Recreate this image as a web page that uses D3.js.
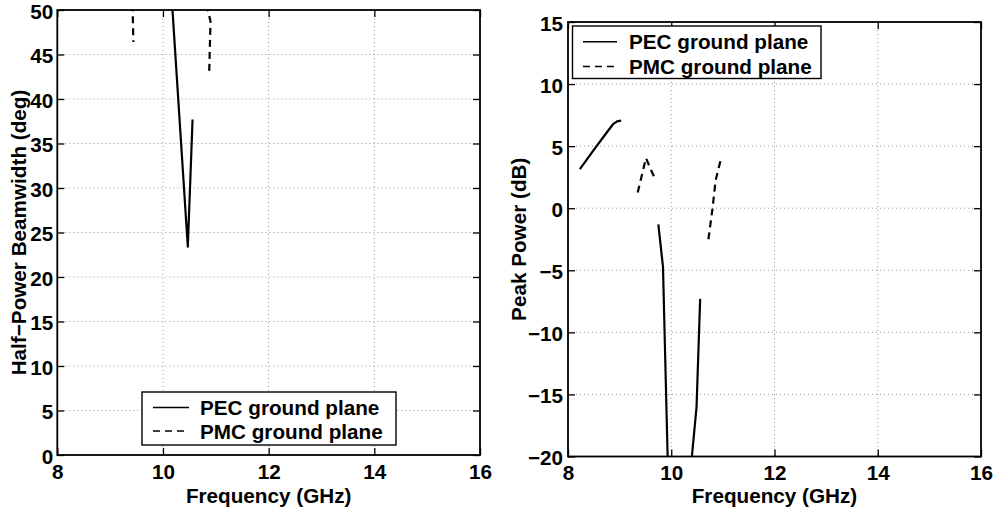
<!DOCTYPE html>
<html>
<head>
<meta charset="utf-8">
<script src="https://cdn.jsdelivr.net/npm/d3@7"></script>
<style>
  html, body { margin: 0; padding: 0; background: #fff; }
  svg { display: block; font-family: "Liberation Sans", Arial, Helvetica, sans-serif; font-weight: bold; }
  .grid line { stroke: #9a9a9a; stroke-width: 1; stroke-dasharray: 1,3; }
  .axis path { display: none; }
  .axis line { stroke: #000; stroke-width: 1.3; }
  .axis text { font-size: 20.7px; font-weight: bold; fill: #000; font-family: "Liberation Sans", Arial, sans-serif; }
  .frame { fill: none; stroke: #000; stroke-width: 1.8; }
  .series { fill: none; stroke: #000; stroke-width: 2.2; stroke-linejoin: round; }
  .dashed { stroke-dasharray: 7,5; }
  .label { font-size: 20.7px; font-weight: bold; fill: #000; }
</style>
</head>
<body>
<svg id="chart" width="995" height="511"></svg>
<script>
// Shared frequency axis
const freqDomain = [8, 16];
const freqTicks = [8, 10, 12, 14, 16];

// Beamwidth panel
const bwDomain = [0, 50];
const bwTicks = [0, 5, 10, 15, 20, 25, 30, 35, 40, 45, 50];
const pecBwFreq = [10.125, 10.47, 10.56];
const pecBwDeg  = [55.0, 23.4, 37.7];
const pmcBwFreq = [9.42, 9.43, 9.44, null, 10.84, 10.85, 10.9, 10.89, 10.875];
const pmcBwDeg  = [52.0, 49.0, 46.4, null, 52.0, 50.0, 48.7, 46.5, 43.0];

// Peak power panel
const powDomain = [-20, 15];
const powTicks = [-20, -15, -10, -5, 0, 5, 10, 15];
const pecPowFreq = [8.23, 8.5, 8.75, 8.88, 8.95, 9.03, null, 9.75, 9.84, 9.93, 9.95, null, 10.38, 10.40, 10.49, 10.56];
const pecPowDb   = [3.15, 4.7, 6.1, 6.8, 7.0, 7.05, null, -1.3, -4.73, -20.0, -23.0, null, -23.0, -20.0, -16.0, -7.3];
const pmcPowFreq = [9.35, 9.51, 9.68, null, 10.72, 10.80, 10.86, 10.96];
const pmcPowDb   = [1.27, 4.03, 2.4, null, -2.5, 0.0, 2.26, 3.93];

const legendLabels = ["PEC ground plane", "PMC ground plane"];

const svg = d3.select("#chart");

function zip(xs, ys) {
  return xs.map((f, i) => (f === null || ys[i] === null) ? null : [f, ys[i]]);
}

function drawPanel(cfg) {
  const x = d3.scaleLinear().domain(freqDomain).range([cfg.left, cfg.right]);
  const y = d3.scaleLinear().domain(cfg.yDomain).range([cfg.bottom, cfg.top]);
  const g = svg.append("g");
  const w = cfg.right - cfg.left, h = cfg.bottom - cfg.top;

  // dotted grid at interior ticks
  const grid = g.append("g").attr("class", "grid");
  grid.selectAll("line.v").data(freqTicks.slice(1, -1)).join("line")
    .attr("class", "v")
    .attr("x1", d => x(d)).attr("x2", d => x(d))
    .attr("y1", cfg.top).attr("y2", cfg.bottom);
  grid.selectAll("line.h").data(cfg.yTicks.slice(1, -1)).join("line")
    .attr("class", "h")
    .attr("x1", cfg.left).attr("x2", cfg.right)
    .attr("y1", d => y(d)).attr("y2", d => y(d));

  // data curves, clipped to the plot box
  const clipId = "clip-" + cfg.id;
  svg.append("clipPath").attr("id", clipId)
    .append("rect").attr("x", cfg.left).attr("y", cfg.top).attr("width", w).attr("height", h);
  const line = d3.line().defined(d => d !== null).x(d => x(d[0])).y(d => y(d[1]));
  const curves = g.append("g").attr("clip-path", `url(#${clipId})`);
  curves.append("path").attr("class", "series").attr("d", line(zip(cfg.pecX, cfg.pecY)));
  curves.append("path").attr("class", "series dashed").attr("d", line(zip(cfg.pmcX, cfg.pmcY)));

  // inward ticks on all four sides
  const tk = 7;
  g.append("g").attr("class", "axis").attr("transform", `translate(0,${cfg.bottom})`)
    .call(d3.axisBottom(x).tickValues(freqTicks).tickSize(-tk).tickSizeOuter(0).tickPadding(9).tickFormat(d3.format("d")));
  g.append("g").attr("class", "axis").attr("transform", `translate(0,${cfg.top})`)
    .call(d3.axisTop(x).tickValues(freqTicks).tickSize(-tk).tickSizeOuter(0).tickFormat(""));
  const yFmt = d => (d < 0 ? "\u2212" + Math.abs(d) : String(d));
  const ya = g.append("g").attr("class", "axis").attr("transform", `translate(${cfg.left},0)`)
    .call(d3.axisLeft(y).tickValues(cfg.yTicks).tickSize(-tk).tickSizeOuter(0).tickPadding(cfg.yPad).tickFormat(yFmt));
  ya.selectAll("text").attr("dy", "0.4em");
  g.append("g").attr("class", "axis").attr("transform", `translate(${cfg.right},0)`)
    .call(d3.axisRight(y).tickValues(cfg.yTicks).tickSize(-tk).tickSizeOuter(0).tickFormat(""));

  g.append("rect").attr("class", "frame")
    .attr("x", cfg.left).attr("y", cfg.top).attr("width", w).attr("height", h);

  // axis titles
  g.append("text").attr("class", "label").attr("text-anchor", "middle")
    .attr("x", (cfg.left + cfg.right) / 2).attr("y", 503)
    .text("Frequency (GHz)");
  g.append("text").attr("class", "label").attr("text-anchor", "middle")
    .attr("transform", `translate(${cfg.yLabelX},${(cfg.top + cfg.bottom) / 2}) rotate(-90)`)
    .text(cfg.yLabel);

  // legend
  const L = cfg.legend;
  const lg = g.append("g");
  lg.append("rect").attr("x", L.x0).attr("y", L.y0).attr("width", L.x1 - L.x0).attr("height", L.y1 - L.y0)
    .attr("fill", "#fff").attr("stroke", "#000").attr("stroke-width", 1.4);
  legendLabels.forEach((lab, i) => {
    const yy = L.rows[i];
    lg.append("line").attr("x1", L.lx0).attr("x2", L.lx1).attr("y1", yy).attr("y2", yy)
      .attr("stroke", "#000").attr("stroke-width", 1.6)
      .attr("stroke-dasharray", i === 1 ? "7,5" : null);
    lg.append("text").attr("class", "label").attr("x", L.tx).attr("y", yy + 7.5).text(lab);
  });
}

drawPanel({
  id: "bw", left: 57.3, right: 480, top: 10, bottom: 455,
  yDomain: bwDomain, yTicks: bwTicks, yPad: 4,
  pecX: pecBwFreq, pecY: pecBwDeg, pmcX: pmcBwFreq, pmcY: pmcBwDeg,
  yLabel: "Half\u2212Power Beamwidth (deg)", yLabelX: 26,
  legend: { x0: 142, x1: 396, y0: 392, y1: 445, rows: [407.5, 431], lx0: 153, lx1: 189, tx: 200 }
});

drawPanel({
  id: "pow", left: 568, right: 981, top: 22, bottom: 456.5,
  yDomain: powDomain, yTicks: powTicks, yPad: 5,
  pecX: pecPowFreq, pecY: pecPowDb, pmcX: pmcPowFreq, pmcY: pmcPowDb,
  yLabel: "Peak Power (dB)", yLabelX: 526,
  legend: { x0: 572.5, x1: 821, y0: 26, y1: 78.5, rows: [41.7, 66.5], lx0: 583, lx1: 617, tx: 629 }
});
</script>
</body>
</html>
